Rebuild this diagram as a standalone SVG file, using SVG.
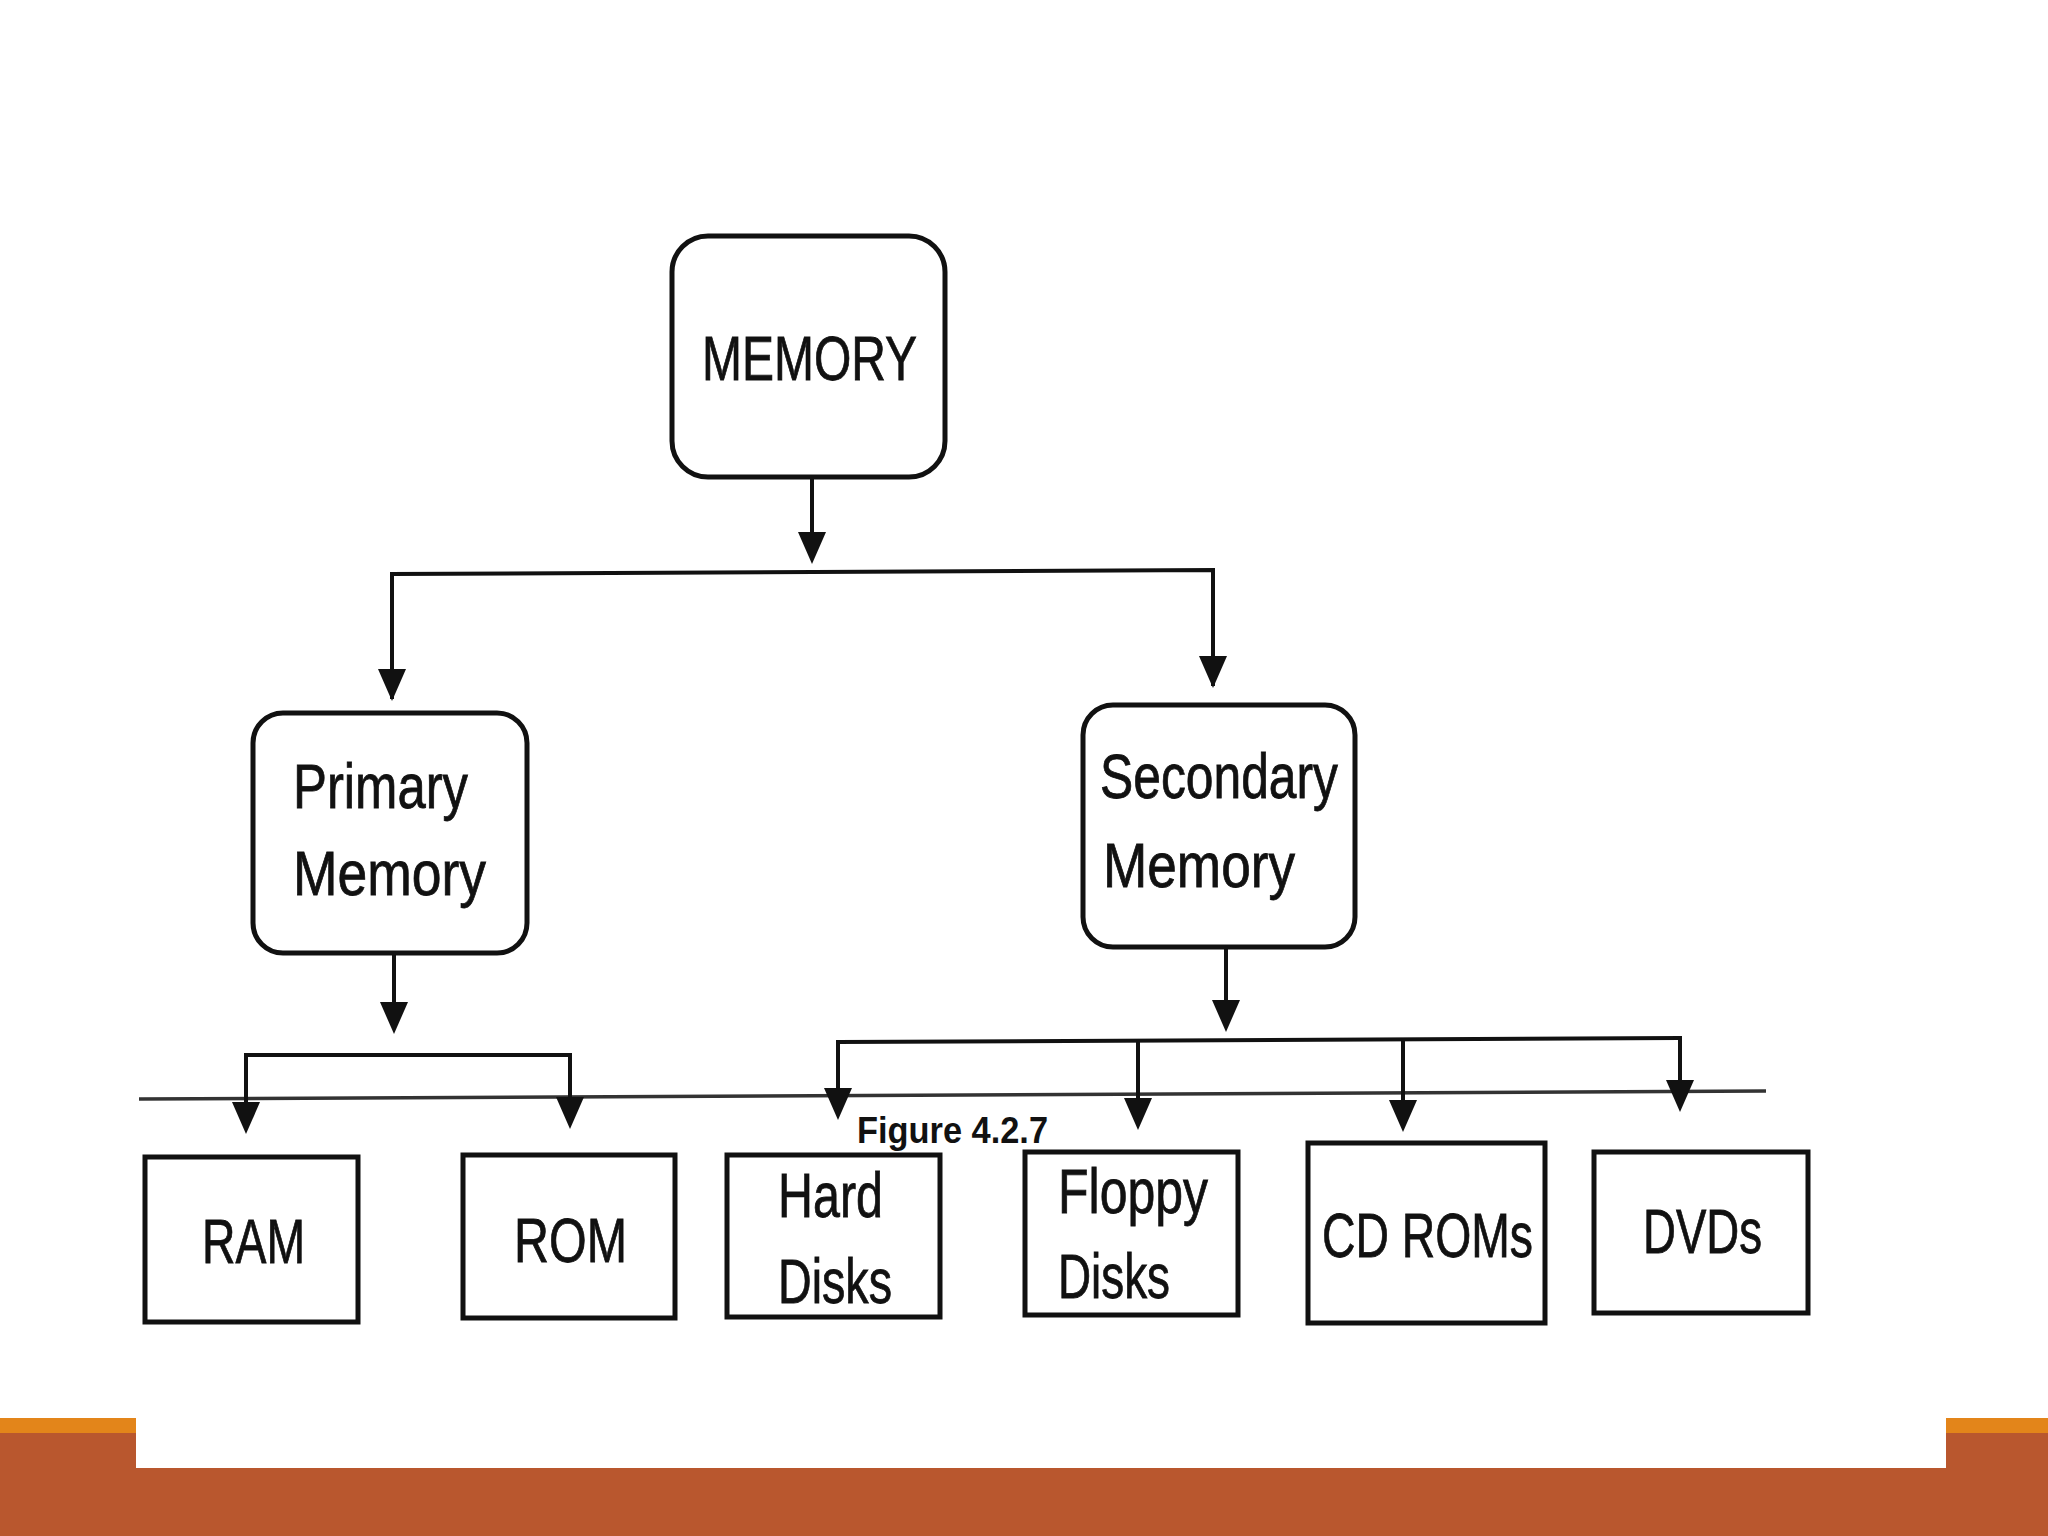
<svg xmlns="http://www.w3.org/2000/svg" width="2048" height="1536" viewBox="0 0 2048 1536">
<style>
.box{fill:#fff;stroke:#111;stroke-width:5}
.lbl{font-family:"Liberation Sans",Arial,sans-serif;font-size:63px;fill:#111;stroke:#111;stroke-width:0.8}
.fig{font-family:"Liberation Sans",Arial,sans-serif;font-size:36px;font-weight:bold;fill:#111}
.con{fill:none;stroke:#111;stroke-width:4}
</style>
<defs>
<marker id="ah" markerUnits="userSpaceOnUse" markerWidth="32" markerHeight="28" viewBox="0 0 32 28" refX="22" refY="14" orient="auto">
<path d="M0,0 L32,14 L0,28 Z" fill="#111"/>
</marker>
</defs>
<rect x="0" y="0" width="2048" height="1536" fill="#fff"/>
<g id="band">
<rect x="0" y="1418" width="136" height="15" fill="#E3851A"/>
<rect x="0" y="1433" width="136" height="103" fill="#B9572E"/>
<rect x="1946" y="1418" width="102" height="15" fill="#E3851A"/>
<rect x="1946" y="1433" width="102" height="103" fill="#B9572E"/>
<rect x="0" y="1468" width="2048" height="68" fill="#B9572E"/>
</g>
<g id="connectors">
<line x1="139" y1="1099" x2="1766" y2="1091" stroke="#333" stroke-width="3.5"/>
<path class="con" d="M812,477 L812,554" marker-end="url(#ah)"/>
<path class="con" d="M392,699 L392,574 L1213,570 L1213,686" stroke-linejoin="miter"/>
<path class="con" d="M392,574 L392,691" marker-end="url(#ah)"/>
<path class="con" d="M1213,570 L1213,678" marker-end="url(#ah)"/>
<path class="con" d="M394,953 L394,1024" marker-end="url(#ah)"/>
<path class="con" d="M246,1055 L570,1055"/>
<path class="con" d="M246,1053 L246,1124" marker-end="url(#ah)"/>
<path class="con" d="M570,1053 L570,1119" marker-end="url(#ah)"/>
<path class="con" d="M1226,947 L1226,1022" marker-end="url(#ah)"/>
<path class="con" d="M838,1042 L1680,1038"/>
<path class="con" d="M838,1040 L838,1110" marker-end="url(#ah)"/>
<path class="con" d="M1138,1040 L1138,1120" marker-end="url(#ah)"/>
<path class="con" d="M1403,1039 L1403,1122" marker-end="url(#ah)"/>
<path class="con" d="M1680,1036 L1680,1102" marker-end="url(#ah)"/>
</g>
<g id="memory">
<rect class="box" x="672" y="236" width="273" height="241" rx="36" ry="36"/>
<text class="lbl" x="702" y="380" textLength="215" lengthAdjust="spacingAndGlyphs">MEMORY</text>
</g>
<g id="primary">
<rect class="box" x="253" y="713" width="274" height="240" rx="30" ry="30"/>
<text class="lbl" x="293" y="808" textLength="175" lengthAdjust="spacingAndGlyphs">Primary</text>
<text class="lbl" x="293" y="895" textLength="193" lengthAdjust="spacingAndGlyphs">Memory</text>
</g>
<g id="secondary">
<rect class="box" x="1083" y="705" width="272" height="242" rx="30" ry="30"/>
<text class="lbl" x="1100" y="798" textLength="238" lengthAdjust="spacingAndGlyphs">Secondary</text>
<text class="lbl" x="1103" y="887" textLength="192" lengthAdjust="spacingAndGlyphs">Memory</text>
</g>
<g id="ram">
<rect class="box" x="145" y="1157" width="213" height="165"/>
<text class="lbl" x="202" y="1263" textLength="103" lengthAdjust="spacingAndGlyphs">RAM</text>
</g>
<g id="rom">
<rect class="box" x="463" y="1155" width="212" height="163"/>
<text class="lbl" x="514" y="1262" textLength="113" lengthAdjust="spacingAndGlyphs">ROM</text>
</g>
<g id="harddisks">
<rect class="box" x="727" y="1155" width="213" height="162"/>
<text class="lbl" x="778" y="1217" textLength="105" lengthAdjust="spacingAndGlyphs">Hard</text>
<text class="lbl" x="778" y="1303" textLength="114" lengthAdjust="spacingAndGlyphs">Disks</text>
</g>
<g id="floppydisks">
<rect class="box" x="1025" y="1152" width="213" height="163"/>
<text class="lbl" x="1058" y="1213" textLength="150" lengthAdjust="spacingAndGlyphs">Floppy</text>
<text class="lbl" x="1058" y="1298" textLength="112" lengthAdjust="spacingAndGlyphs">Disks</text>
</g>
<g id="cdroms">
<rect class="box" x="1308" y="1143" width="237" height="180"/>
<text class="lbl" x="1322" y="1257" textLength="211" lengthAdjust="spacingAndGlyphs">CD ROMs</text>
</g>
<g id="dvds">
<rect class="box" x="1594" y="1152" width="214" height="161"/>
<text class="lbl" x="1643" y="1253" textLength="119" lengthAdjust="spacingAndGlyphs">DVDs</text>
</g>
<g id="caption">
<text class="fig" x="857" y="1143" textLength="191" lengthAdjust="spacingAndGlyphs">Figure 4.2.7</text>
</g>
</svg>
